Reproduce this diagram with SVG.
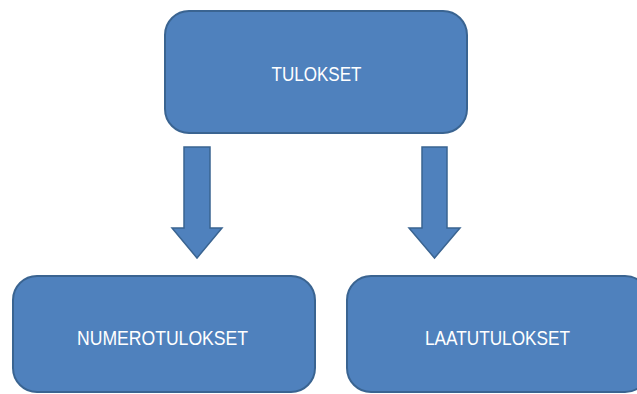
<svg xmlns="http://www.w3.org/2000/svg" width="637" height="394" viewBox="0 0 637 394">
  <style>
    .box { fill: #4f81bd; stroke: #3a6491; stroke-width: 2; }
    .arrow { fill: #4f81bd; stroke: #3a6491; stroke-width: 1.5; stroke-linejoin: miter; }
    .label { font-family: "Liberation Sans", Arial, sans-serif; font-size: 21px; fill: #ffffff; text-anchor: middle; }
  </style>
  <rect width="637" height="394" fill="#ffffff"/>

  <g id="node-tulokset">
    <rect class="box" x="165" y="11" width="302" height="122" rx="24" ry="24"/>
    <text class="label" x="316.5" y="81" textLength="90" lengthAdjust="spacingAndGlyphs">TULOKSET</text>
  </g>

  <g id="node-numerotulokset">
    <rect class="box" x="13" y="276" width="302" height="116" rx="24" ry="24"/>
    <text class="label" x="162.5" y="345" textLength="171" lengthAdjust="spacingAndGlyphs">NUMEROTULOKSET</text>
  </g>

  <g id="node-laatutulokset">
    <rect class="box" x="347" y="276" width="302" height="116" rx="24" ry="24"/>
    <text class="label" x="497.5" y="345" textLength="145" lengthAdjust="spacingAndGlyphs">LAATUTULOKSET</text>
  </g>

  <g id="connectors">
    <polygon class="arrow" points="184,147 210,147 210,228 222,228 197,258 172,228 184,228"/>
    <polygon class="arrow" points="422,147 447,147 447,228 460,228 434.5,258 409,228 422,228"/>
  </g>
</svg>
